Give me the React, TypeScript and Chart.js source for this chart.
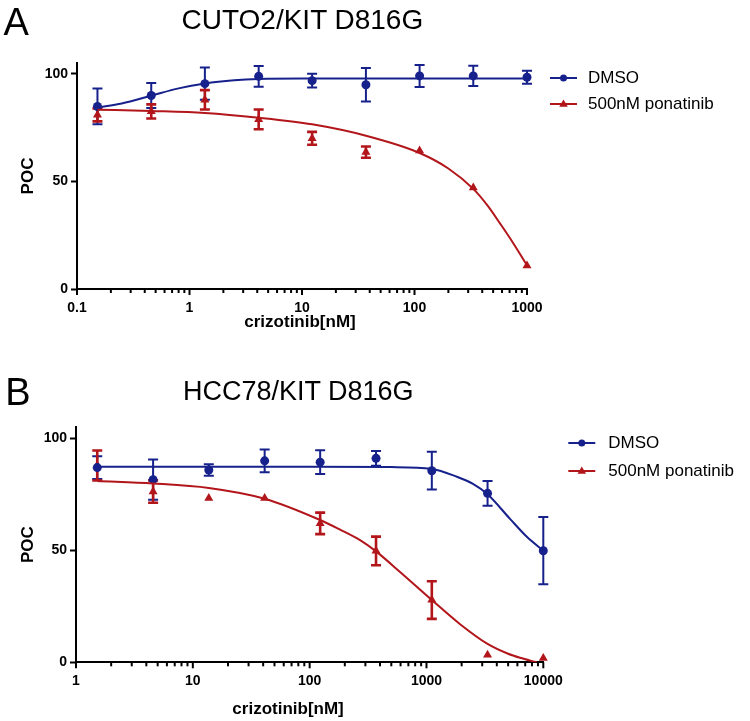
import React, { useEffect, useRef } from "react";
import { Chart, registerables } from "chart.js";

Chart.register(...registerables);

const FONT = "'Liberation Sans', Arial, Helvetica, sans-serif";
const BLUE = "#17218C";
const RED = "#B2161B";

// ---------- shared ----------
const seriesLabels = ["DMSO", "500nM ponatinib"];
const yTicks = [0, 50, 100];
const yTickLabels = ["0", "50", "100"];
const yMax = 105;
const yTitle = "POC";
const xTitle = "crizotinib[nM]";

// ---------- panel A: CUTO2/KIT D816G ----------
const letterA = "A";
const titleA = "CUTO2/KIT D816G";
const xTicksA = [0.1, 1, 10, 100, 1000];
const xTickLabelsA = ["0.1", "1", "10", "100", "1000"];
const concA = [0.152, 0.457, 1.37, 4.12, 12.3, 37.0, 111, 333, 1000];
const dmsoA = [84.8, 89.9, 95.4, 98.8, 96.8, 94.9, 99.0, 99.0, 98.4];
const dmsoErrA = [8.3, 5.8, 7.5, 4.8, 3.2, 7.8, 5.1, 4.7, 3.0];
const ponaA = [80.9, 82.5, 87.9, 78.8, 70.0, 63.6, 64.3, 47.1, 10.8];
const ponaErrA = [3.0, 3.3, 4.5, 4.6, 3.0, 2.6, 0, 0, 0];
const dmsoFitXA = [0.152, 0.25, 0.457, 0.8, 1.37, 2.5, 4.12, 10, 100, 1000];
const dmsoFitYA = [84.3, 86.2, 89.8, 93.2, 95.5, 97.0, 97.6, 97.8, 97.8, 97.8];
const ponaFitXA = [0.152, 0.457, 1.37, 4.12, 12.3, 37, 111, 200, 333, 450, 575, 750, 1000];
const ponaFitYA = [83.3, 82.7, 81.8, 79.6, 76.5, 71.2, 63.2, 56.0, 46.5, 38.5, 30.5, 21.5, 11.0];

// ---------- panel B: HCC78/KIT D816G ----------
const letterB = "B";
const titleB = "HCC78/KIT D816G";
const xTicksB = [1, 10, 100, 1000, 10000];
const xTickLabelsB = ["1", "10", "100", "1000", "10000"];
const concB = [1.52, 4.57, 13.7, 41.2, 123, 370, 1111, 3333, 10000];
const dmsoB = [86.9, 81.5, 85.8, 89.9, 89.3, 91.0, 85.5, 75.4, 49.8];
const dmsoErrB = [5.1, 9.0, 2.6, 5.1, 5.3, 3.3, 8.4, 5.5, 15.0];
const ponaB = [87.8, 76.2, 73.2, 73.2, 62.0, 49.7, 27.8, 3.3, 1.8];
const ponaErrB = [6.7, 5.0, 0, 0, 4.8, 6.4, 8.4, 0, 0];
const dmsoFitXB = [1.52, 10, 100, 500, 1111, 1820, 2500, 3333, 5190, 7230, 10000];
const dmsoFitYB = [87.3, 87.3, 87.3, 87.1, 86.3, 82.8, 79.6, 75.0, 64.0, 56.0, 49.8];
const ponaFitXB = [1.52, 4.57, 13.7, 41.2, 123, 182, 270, 370, 594, 1111, 1940, 3333, 5000, 6320, 8790];
const ponaFitYB = [80.9, 79.8, 77.8, 73.0, 63.5, 59.2, 54.5, 49.5, 40.3, 27.8, 17.0, 8.2, 3.8, 2.0, 0];

// ---------- plugins ----------
const errorBarsPlugin = {
  id: "errorBars",
  beforeDatasetsDraw(chart: any, _a: any, opts: any) {
    const { ctx, scales } = chart;
    const xs = scales.x;
    const ys = scales.y;
    (opts.sets || []).forEach((s: any) => {
      ctx.save();
      ctx.strokeStyle = s.color;
      ctx.lineWidth = s.width;
      s.x.forEach((xv: number, i: number) => {
        const e = s.err[i];
        if (!e) return;
        const px = xs.getPixelForValue(xv);
        const pt = ys.getPixelForValue(s.y[i] + e);
        const pb = ys.getPixelForValue(s.y[i] - e);
        ctx.beginPath();
        ctx.moveTo(px, pt);
        ctx.lineTo(px, pb);
        ctx.moveTo(px - s.cap, pt);
        ctx.lineTo(px + s.cap, pt);
        ctx.moveTo(px - s.cap, pb);
        ctx.lineTo(px + s.cap, pb);
        ctx.stroke();
      });
      ctx.restore();
    });
  },
};

const logTicksPlugin = {
  id: "logTicks",
  afterDraw(chart: any, _a: any, opts: any) {
    const sc = chart.scales.x;
    const ctx = chart.ctx;
    const y0 = chart.chartArea.bottom;
    ctx.save();
    ctx.strokeStyle = "#000";
    ctx.lineWidth = opts.width;
    sc.ticks.forEach((t: any) => {
      const px = sc.getPixelForValue(t.value);
      const len = t.major ? opts.majorLen : opts.minorLen;
      ctx.beginPath();
      ctx.moveTo(px, y0);
      ctx.lineTo(px, y0 + len);
      ctx.stroke();
    });
    ctx.restore();
  },
};

const xTitlePlugin = {
  id: "xTitle",
  afterDraw(chart: any, _a: any, opts: any) {
    const { ctx, chartArea } = chart;
    ctx.save();
    ctx.font = `bold ${opts.size}px ${FONT}`;
    ctx.fillStyle = "#000";
    ctx.textAlign = "center";
    ctx.textBaseline = "middle";
    ctx.fillText(opts.text, (chartArea.left + chartArea.right) / 2 + opts.dx, opts.y);
    ctx.restore();
  },
};

const sideLegendPlugin = {
  id: "sideLegend",
  afterDraw(chart: any, _a: any, opts: any) {
    const { ctx, chartArea } = chart;
    (opts.entries || []).forEach((e: any, i: number) => {
      const y = chartArea.top + opts.dy + i * opts.gap;
      const x0 = chartArea.right + opts.dx;
      const xm = x0 + opts.lineLen / 2;
      ctx.save();
      ctx.strokeStyle = e.color;
      ctx.fillStyle = e.color;
      ctx.lineWidth = 2;
      ctx.beginPath();
      ctx.moveTo(x0, y);
      ctx.lineTo(x0 + opts.lineLen, y);
      ctx.stroke();
      ctx.beginPath();
      if (e.style === "triangle") {
        const r = 4.5;
        ctx.moveTo(xm, y - r);
        ctx.lineTo(xm + r * 0.95, y + r * 0.6);
        ctx.lineTo(xm - r * 0.95, y + r * 0.6);
        ctx.closePath();
      } else {
        ctx.arc(xm, y, 3.5, 0, Math.PI * 2);
      }
      ctx.fill();
      ctx.font = `${opts.size}px ${FONT}`;
      ctx.fillStyle = "#000";
      ctx.textAlign = "left";
      ctx.textBaseline = "middle";
      ctx.fillText(e.label, x0 + opts.textDx, y);
      ctx.restore();
    });
  },
};

type PanelCfg = {
  height: number;
  padTop: number;
  padRight: number;
  yWidth: number;
  xHeight: number;
  xTicks: number[];
  xTickLabels: string[];
  tickPad: number;
  conc: number[];
  dmso: number[];
  dmsoErr: number[];
  pona: number[];
  ponaErr: number[];
  dmsoFitX: number[];
  dmsoFitY: number[];
  ponaFitX: number[];
  ponaFitY: number[];
  legend: { dx: number; dy: number; gap: number; textDx: number };
  xTitleDx: number;
  xTitleY: number;
};

const pts = (xs: number[], ys: number[]) => xs.map((x, i) => ({ x, y: ys[i] }));

function buildConfig(p: PanelCfg): any {
  const majors = p.xTicks;
  return {
    type: "line",
    data: {
      datasets: [
        {
          label: seriesLabels[0] + " fit",
          data: pts(p.dmsoFitX, p.dmsoFitY),
          borderColor: BLUE,
          borderWidth: 2,
          pointRadius: 0,
          cubicInterpolationMode: "monotone",
          fill: false,
        },
        {
          label: seriesLabels[1] + " fit",
          data: pts(p.ponaFitX, p.ponaFitY),
          borderColor: RED,
          borderWidth: 2,
          pointRadius: 0,
          cubicInterpolationMode: "monotone",
          fill: false,
        },
        {
          label: seriesLabels[0],
          data: pts(p.conc, p.dmso),
          showLine: false,
          pointStyle: "circle",
          pointRadius: 4.5,
          pointBackgroundColor: BLUE,
          pointBorderColor: BLUE,
          pointBorderWidth: 0,
          clip: false,
        },
        {
          label: seriesLabels[1],
          data: pts(p.conc, p.pona),
          showLine: false,
          pointStyle: "triangle",
          pointRadius: 5.2,
          pointBackgroundColor: RED,
          pointBorderColor: RED,
          pointBorderWidth: 0,
          clip: false,
        },
      ],
    },
    options: {
      animation: false,
      responsive: false,
      events: [],
      layout: { padding: { left: 0, top: p.padTop, right: p.padRight, bottom: 0 } },
      scales: {
        x: {
          type: "logarithmic",
          min: majors[0],
          max: majors[majors.length - 1],
          border: { display: true, width: 2, color: "#000" },
          grid: { display: false, drawTicks: true, tickLength: 6 },
          afterBuildTicks: (scale: any) => {
            const ticks: any[] = [];
            majors.forEach((m, i) => {
              ticks.push({ value: m, major: true });
              if (i < majors.length - 1) {
                for (let k = 2; k <= 9; k++) ticks.push({ value: m * k, major: false });
              }
            });
            scale.ticks = ticks;
          },
          afterFit: (scale: any) => {
            scale.height = p.xHeight;
          },
          ticks: {
            autoSkip: false,
            maxRotation: 0,
            minRotation: 0,
            padding: p.tickPad,
            color: "#000",
            font: { family: FONT, size: 14, weight: "bold" },
            callback: (value: number) => {
              const j = majors.findIndex((m) => Math.abs(m - value) / m < 1e-9);
              return j >= 0 ? p.xTickLabels[j] : "";
            },
          },
        },
        y: {
          type: "linear",
          min: 0,
          max: yMax,
          border: { display: true, width: 2, color: "#000" },
          grid: {
            display: true,
            drawOnChartArea: false,
            drawTicks: true,
            tickLength: 6,
            tickWidth: 2,
            tickColor: "#000",
          },
          afterBuildTicks: (scale: any) => {
            scale.ticks = yTicks.map((v) => ({ value: v }));
          },
          afterFit: (scale: any) => {
            scale.width = p.yWidth;
          },
          ticks: {
            padding: 3,
            color: "#000",
            font: { family: FONT, size: 14, weight: "bold" },
            callback: (value: number) => {
              const j = yTicks.indexOf(value);
              return j >= 0 ? yTickLabels[j] : "";
            },
          },
          title: {
            display: true,
            text: yTitle,
            color: "#000",
            font: { family: FONT, size: 17, weight: "bold" },
            padding: { top: 18, bottom: 0 },
          },
        },
      },
      plugins: {
        legend: { display: false },
        tooltip: { enabled: false },
        title: { display: false },
        errorBars: {
          sets: [
            { x: p.conc, y: p.dmso, err: p.dmsoErr, color: BLUE, width: 2, cap: 5 },
            { x: p.conc, y: p.pona, err: p.ponaErr, color: RED, width: 2.6, cap: 5 },
          ],
        },
        logTicks: { width: 2, majorLen: 6, minorLen: 4 },
        xTitle: { text: xTitle, size: 17, dx: p.xTitleDx, y: p.xTitleY },
        sideLegend: {
          size: 17,
          lineLen: 27,
          dx: p.legend.dx,
          dy: p.legend.dy,
          gap: p.legend.gap,
          textDx: p.legend.textDx,
          entries: [
            { label: seriesLabels[0], color: BLUE, style: "circle" },
            { label: seriesLabels[1], color: RED, style: "triangle" },
          ],
        },
      },
    },
    plugins: [errorBarsPlugin, logTicksPlugin, xTitlePlugin, sideLegendPlugin],
  };
}

function Panel({ cfg, top }: { cfg: PanelCfg; top: number }) {
  const ref = useRef<HTMLCanvasElement | null>(null);
  useEffect(() => {
    if (!ref.current) return;
    const chart = new Chart(ref.current, buildConfig(cfg));
    return () => chart.destroy();
  }, [cfg]);
  return (
    <canvas
      ref={ref}
      width={750}
      height={cfg.height}
      style={{ position: "absolute", left: 0, top, width: 750, height: cfg.height }}
    />
  );
}

const cfgA: PanelCfg = {
  height: 345,
  padTop: 63,
  padRight: 223,
  yWidth: 77,
  xHeight: 56,
  xTicks: xTicksA,
  xTickLabels: xTickLabelsA,
  tickPad: 5,
  conc: concA,
  dmso: dmsoA,
  dmsoErr: dmsoErrA,
  pona: ponaA,
  ponaErr: ponaErrA,
  dmsoFitX: dmsoFitXA,
  dmsoFitY: dmsoFitYA,
  ponaFitX: ponaFitXA,
  ponaFitY: ponaFitYA,
  legend: { dx: 23, dy: 15, gap: 26, textDx: 38 },
  xTitleDx: -2,
  xTitleY: 322,
};

const cfgB: PanelCfg = {
  height: 366,
  padTop: 72,
  padRight: 206.7,
  yWidth: 76,
  xHeight: 58.7,
  xTicks: xTicksB,
  xTickLabels: xTickLabelsB,
  tickPad: 4,
  conc: concB,
  dmso: dmsoB,
  dmsoErr: dmsoErrB,
  pona: ponaB,
  ponaErr: ponaErrB,
  dmsoFitX: dmsoFitXB,
  dmsoFitY: dmsoFitYB,
  ponaFitX: ponaFitXB,
  ponaFitY: ponaFitYB,
  legend: { dx: 25, dy: 16, gap: 28, textDx: 40 },
  xTitleDx: -21.6,
  xTitleY: 354,
};

const textStyle = (size: number, left: number, top: number): React.CSSProperties => ({
  position: "absolute",
  left,
  top,
  fontFamily: FONT,
  fontSize: size,
  lineHeight: `${size}px`,
  whiteSpace: "nowrap",
  color: "#000",
  margin: 0,
});

export default function App() {
  return (
    <div
      style={{
        position: "absolute",
        left: 0,
        top: 0,
        width: 750,
        height: 721,
        background: "#fff",
        overflow: "hidden",
      }}
    >
      <Panel cfg={cfgA} top={0} />
      <Panel cfg={cfgB} top={355} />
      <div style={textStyle(38, 3.5, 2.8)}>{letterA}</div>
      <div style={textStyle(28, 181.5, 6.3)}>{titleA}</div>
      <div style={textStyle(38, 5.2, 372.8)}>{letterB}</div>
      <div style={textStyle(27, 183, 378.1)}>{titleB}</div>
    </div>
  );
}
